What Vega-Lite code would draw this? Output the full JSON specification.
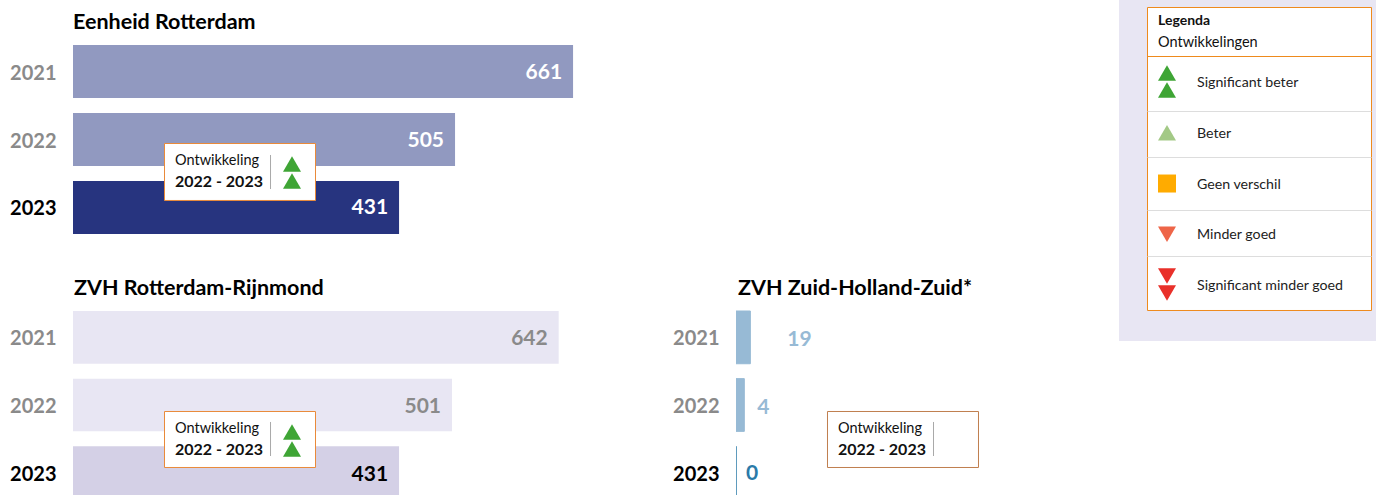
{
"$schema":"https://vega.github.io/schema/vega-lite/v6.json",
"autosize":{"type":"none"},
"padding":{"left":73,"top":0,"right":1303,"bottom":495},
"background":"white",
"config":{"view":{"stroke":null},"text":{"font":"Lato"},"title":{"font":"Lato","fontSize":21.5,"fontWeight":"bold","color":"#000000","anchor":"start","baseline":"middle","frame":"group"}},
"datasets":{
"aantallen":[
{"eenheid":"Eenheid Rotterdam","jaar":"2021","aantal":661,"staaf":661},
{"eenheid":"Eenheid Rotterdam","jaar":"2022","aantal":505,"staaf":505},
{"eenheid":"Eenheid Rotterdam","jaar":"2023","aantal":431,"staaf":431},
{"eenheid":"ZVH Rotterdam-Rijnmond","jaar":"2021","aantal":642,"staaf":642},
{"eenheid":"ZVH Rotterdam-Rijnmond","jaar":"2022","aantal":501,"staaf":501},
{"eenheid":"ZVH Rotterdam-Rijnmond","jaar":"2023","aantal":431,"staaf":431},
{"eenheid":"ZVH Zuid-Holland-Zuid","jaar":"2021","aantal":19,"staaf":19},
{"eenheid":"ZVH Zuid-Holland-Zuid","jaar":"2022","aantal":4,"staaf":11},
{"eenheid":"ZVH Zuid-Holland-Zuid","jaar":"2023","aantal":0,"staaf":0}
],
"ontwikkeling":[
{"eenheid":"Eenheid Rotterdam","kop":"Ontwikkeling","periode":"2022 - 2023","symbool":"Significant beter"},
{"eenheid":"ZVH Rotterdam-Rijnmond","kop":"Ontwikkeling","periode":"2022 - 2023","symbool":"Significant beter"},
{"eenheid":"ZVH Zuid-Holland-Zuid","kop":"Ontwikkeling","periode":"2022 - 2023","symbool":"geen"}
],
"legenda":[
{"label":"Significant beter","rij":1,"dubbel":true},
{"label":"Beter","rij":2,"dubbel":false},
{"label":"Geen verschil","rij":3,"dubbel":false},
{"label":"Minder goed","rij":4,"dubbel":false},
{"label":"Significant minder goed","rij":5,"dubbel":true}
]
},
"resolve":{"scale":{"color":"independent","stroke":"independent","shape":"independent","size":"independent"}},
"spacing":0,
"hconcat":[
{"bounds":"flush","spacing":0,"resolve":{"scale":{"color":"independent","stroke":"independent"}},"vconcat":[
{"title":{"text":"Eenheid Rotterdam","offset":-33},"width":600,"height":267,"resolve":{"scale":{"y":"independent"}},"layer":[
{"data":{"name":"aantallen"},"transform":[{"filter":"datum.eenheid === 'Eenheid Rotterdam'"}],"mark":{"type":"bar","clip":true},"encoding":{
"y":{"field":"jaar","type":"nominal","sort":null,"scale":{"type":"band","domain":["2021","2022","2023"],"range":[45,234],"paddingInner":0.22,"paddingOuter":0},"axis":{"title":null,"domain":false,"ticks":false,"labelFont":"Lato","labelFontSize":20,"labelFontWeight":"bold","labelPadding":17,"labelOffset":2,"labelColor":{"condition":{"test":"datum.value === '2023'","value":"#000000"},"value":"#8a8a8a"}}},
"x":{"field":"staaf","type":"quantitative","scale":{"domain":[0,793.1],"nice":false},"axis":null},
"color":{"field":"jaar","type":"nominal","scale":{"domain":["2021","2022","2023"],"range":["#9199c0","#9199c0","#27347f"]},"legend":null}}},
{"data":{"name":"aantallen"},"transform":[{"filter":"datum.eenheid === 'Eenheid Rotterdam'"}],"mark":{"type":"text","align":"right","baseline":"middle","dx":-11,"dy":1,"fontSize":21,"fontWeight":"bold","color":"#ffffff"},"encoding":{
"y":{"field":"jaar","type":"nominal","sort":null,"scale":{"type":"band","domain":["2021","2022","2023"],"range":[45,234],"paddingInner":0.22,"paddingOuter":0},"axis":null},
"x":{"field":"staaf","type":"quantitative"},"text":{"field":"aantal","type":"quantitative"}}},
{"data":{"name":"ontwikkeling"},"transform":[{"filter":"datum.eenheid === 'Eenheid Rotterdam'"}],"layer":[
{"mark":{"type":"rect","fill":"#ffffff","stroke":"#e98a3a","strokeWidth":1},"encoding":{"x":{"datum":120.95,"type":"quantitative"},"x2":{"datum":320.56},"y":{"datum":1.5635,"type":"quantitative","scale":{"domain":[0,3],"range":[45,234]},"axis":null},"y2":{"datum":2.468}}},
{"mark":{"type":"text","align":"left","baseline":"middle","fontSize":14.5,"color":"#111111"},"encoding":{"x":{"datum":134.8,"type":"quantitative"},"y":{"datum":1.84,"type":"quantitative"},"text":{"field":"kop"}}},
{"mark":{"type":"text","align":"left","baseline":"middle","fontSize":16,"fontWeight":"bold","color":"#111111"},"encoding":{"x":{"datum":134.8,"type":"quantitative"},"y":{"datum":2.175,"type":"quantitative"},"text":{"field":"periode"}}},
{"mark":{"type":"rule","color":"#a9a9a9","strokeWidth":1},"encoding":{"x":{"datum":261.1,"type":"quantitative"},"y":{"datum":1.746,"type":"quantitative"},"y2":{"datum":2.286}}},
{"mark":{"type":"point","shape":"triangle-up","filled":true,"size":324,"opacity":1,"color":"#3fa535"},"encoding":{"x":{"datum":289.5,"type":"quantitative"},"y":{"datum":1.889,"type":"quantitative"}}},
{"mark":{"type":"point","shape":"triangle-up","filled":true,"size":324,"opacity":1,"color":"#3fa535"},"encoding":{"x":{"datum":289.5,"type":"quantitative"},"y":{"datum":2.159,"type":"quantitative"}}}
]}
]},
{"bounds":"flush","spacing":63,"resolve":{"scale":{"color":"independent","stroke":"independent"}},"hconcat":[
{"title":{"text":"ZVH Rotterdam-Rijnmond","offset":-32,"dx":1},"width":600,"height":228,"resolve":{"scale":{"y":"independent"}},"layer":[
{"data":{"name":"aantallen"},"transform":[{"filter":"datum.eenheid === 'ZVH Rotterdam-Rijnmond'"}],"mark":{"type":"bar","clip":true},"encoding":{
"y":{"field":"jaar","type":"nominal","sort":null,"scale":{"type":"band","domain":["2021","2022","2023"],"range":[44,232],"paddingInner":0.22,"paddingOuter":0},"axis":{"title":null,"domain":false,"ticks":false,"labelFont":"Lato","labelFontSize":20,"labelFontWeight":"bold","labelPadding":17,"labelOffset":2,"labelColor":{"condition":{"test":"datum.value === '2023'","value":"#000000"},"value":"#8a8a8a"}}},
"x":{"field":"staaf","type":"quantitative","scale":{"domain":[0,793.1],"nice":false},"axis":null},
"color":{"field":"jaar","type":"nominal","scale":{"domain":["2021","2022","2023"],"range":["#e8e6f3","#e8e6f3","#d4d0e6"]},"legend":null}}},
{"data":{"name":"aantallen"},"transform":[{"filter":"datum.eenheid === 'ZVH Rotterdam-Rijnmond'"}],"mark":{"type":"text","align":"right","baseline":"middle","dx":-11,"dy":2,"fontSize":21,"fontWeight":"bold"},"encoding":{
"y":{"field":"jaar","type":"nominal","sort":null,"scale":{"type":"band","domain":["2021","2022","2023"],"range":[44,232],"paddingInner":0.22,"paddingOuter":0},"axis":null},
"x":{"field":"staaf","type":"quantitative"},"text":{"field":"aantal","type":"quantitative"},
"color":{"condition":{"test":"datum.jaar === '2023'","value":"#000000"},"value":"#8a8a8a"}}},
{"data":{"name":"ontwikkeling"},"transform":[{"filter":"datum.eenheid === 'ZVH Rotterdam-Rijnmond'"}],"layer":[
{"mark":{"type":"rect","fill":"#ffffff","stroke":"#e98a3a","strokeWidth":1},"encoding":{"x":{"datum":120.95,"type":"quantitative"},"x2":{"datum":320.56},"y":{"datum":1.6037,"type":"quantitative","scale":{"domain":[0,3],"range":[44,232]},"axis":null},"y2":{"datum":2.4973}}},
{"mark":{"type":"text","align":"left","baseline":"middle","fontSize":14.5,"color":"#111111"},"encoding":{"x":{"datum":134.8,"type":"quantitative"},"y":{"datum":1.883,"type":"quantitative"},"text":{"field":"kop"}}},
{"mark":{"type":"text","align":"left","baseline":"middle","fontSize":16,"fontWeight":"bold","color":"#111111"},"encoding":{"x":{"datum":134.8,"type":"quantitative"},"y":{"datum":2.218,"type":"quantitative"},"text":{"field":"periode"}}},
{"mark":{"type":"rule","color":"#a9a9a9","strokeWidth":1},"encoding":{"x":{"datum":261.1,"type":"quantitative"},"y":{"datum":1.771,"type":"quantitative"},"y2":{"datum":2.314}}},
{"mark":{"type":"point","shape":"triangle-up","filled":true,"size":324,"opacity":1,"color":"#3fa535"},"encoding":{"x":{"datum":289.5,"type":"quantitative"},"y":{"datum":1.931,"type":"quantitative"}}},
{"mark":{"type":"point","shape":"triangle-up","filled":true,"size":324,"opacity":1,"color":"#3fa535"},"encoding":{"x":{"datum":289.5,"type":"quantitative"},"y":{"datum":2.202,"type":"quantitative"}}}
]}
]},
{"title":{"text":"ZVH Zuid-Holland-Zuid*","offset":-32,"dx":2},"width":383,"height":228,"resolve":{"scale":{"y":"independent"}},"layer":[
{"data":{"name":"aantallen"},"transform":[{"filter":"datum.eenheid === 'ZVH Zuid-Holland-Zuid'"}],"mark":{"type":"bar","clip":true,"strokeWidth":1},"encoding":{
"y":{"field":"jaar","type":"nominal","sort":null,"scale":{"type":"band","domain":["2021","2022","2023"],"range":[44,232],"paddingInner":0.22,"paddingOuter":0},"axis":{"title":null,"domain":false,"ticks":false,"labelFont":"Lato","labelFontSize":20,"labelFontWeight":"bold","labelPadding":17,"labelOffset":2,"labelColor":{"condition":{"test":"datum.value === '2023'","value":"#000000"},"value":"#8a8a8a"}}},
"x":{"field":"staaf","type":"quantitative","scale":{"domain":[0,506.3],"nice":false},"axis":null},
"color":{"field":"jaar","type":"nominal","scale":{"domain":["2021","2022","2023"],"range":["#97bad5","#97bad5","#2b7aa8"]},"legend":null},
"stroke":{"field":"jaar","type":"nominal","scale":{"domain":["2021","2022","2023"],"range":["#97bad5","#97bad5","#2b7aa8"]},"legend":null}}},
{"data":{"name":"aantallen"},"transform":[{"filter":"datum.eenheid === 'ZVH Zuid-Holland-Zuid' && datum.jaar === '2021'"}],"mark":{"type":"text","align":"left","baseline":"middle","dx":37,"dy":3,"fontSize":21,"fontWeight":"bold","color":"#97bad5"},"encoding":{
"y":{"field":"jaar","type":"nominal","sort":null,"scale":{"type":"band","domain":["2021","2022","2023"],"range":[44,232],"paddingInner":0.22,"paddingOuter":0},"axis":null},
"x":{"field":"staaf","type":"quantitative"},"text":{"field":"aantal","type":"quantitative"}}},
{"data":{"name":"aantallen"},"transform":[{"filter":"datum.eenheid === 'ZVH Zuid-Holland-Zuid' && datum.jaar === '2022'"}],"mark":{"type":"text","align":"left","baseline":"middle","dx":13,"dy":3,"fontSize":21,"fontWeight":"bold","color":"#97bad5"},"encoding":{
"y":{"field":"jaar","type":"nominal","sort":null,"scale":{"type":"band","domain":["2021","2022","2023"],"range":[44,232],"paddingInner":0.22,"paddingOuter":0},"axis":null},
"x":{"field":"staaf","type":"quantitative"},"text":{"field":"aantal","type":"quantitative"}}},
{"data":{"name":"aantallen"},"transform":[{"filter":"datum.eenheid === 'ZVH Zuid-Holland-Zuid' && datum.jaar === '2023'"}],"mark":{"type":"text","align":"left","baseline":"middle","dx":10,"dy":1,"fontSize":21,"fontWeight":"bold","color":"#2b7aa8"},"encoding":{
"y":{"field":"jaar","type":"nominal","sort":null,"scale":{"type":"band","domain":["2021","2022","2023"],"range":[44,232],"paddingInner":0.22,"paddingOuter":0},"axis":null},
"x":{"field":"staaf","type":"quantitative"},"text":{"field":"aantal","type":"quantitative"}}},
{"data":{"name":"ontwikkeling"},"transform":[{"filter":"datum.eenheid === 'ZVH Zuid-Holland-Zuid'"}],"layer":[
{"mark":{"type":"rect","fill":"#ffffff","stroke":"#c07f4e","strokeWidth":1},"encoding":{"x":{"datum":120.95,"type":"quantitative"},"x2":{"datum":320.56},"y":{"datum":1.6037,"type":"quantitative","scale":{"domain":[0,3],"range":[44,232]},"axis":null},"y2":{"datum":2.4973}}},
{"mark":{"type":"text","align":"left","baseline":"middle","fontSize":14.5,"color":"#111111"},"encoding":{"x":{"datum":134.8,"type":"quantitative"},"y":{"datum":1.883,"type":"quantitative"},"text":{"field":"kop"}}},
{"mark":{"type":"text","align":"left","baseline":"middle","fontSize":16,"fontWeight":"bold","color":"#111111"},"encoding":{"x":{"datum":134.8,"type":"quantitative"},"y":{"datum":2.218,"type":"quantitative"},"text":{"field":"periode"}}},
{"mark":{"type":"rule","color":"#a9a9a9","strokeWidth":1},"encoding":{"x":{"datum":261.1,"type":"quantitative"},"y":{"datum":1.771,"type":"quantitative"},"y2":{"datum":2.314}}}
]}
]}
]}
]},
{"width":257,"height":341,"view":{"fill":"#e8e6f3","stroke":null},"data":{"name":"legenda"},"layer":[
{"data":{"values":[{"kop":"Legenda","sub":"Ontwikkelingen"}]},"mark":{"type":"rect","fill":"#ffffff","stroke":"#ee8a1d","strokeWidth":1},"encoding":{
"x":{"datum":28.5,"type":"quantitative","scale":{"domain":[0,257],"nice":false},"axis":null},"x2":{"datum":252.5},
"y":{"datum":-0.4682,"type":"quantitative","scale":{"domain":[-0.616,6.103],"nice":false,"zero":false,"reverse":true},"axis":null},"y2":{"datum":5.502}}},
{"data":{"values":[{"kop":"Legenda","sub":"Ontwikkelingen"}]},"mark":{"type":"rule","color":"#ee8a1d","strokeWidth":1},"encoding":{"x":{"datum":28.5,"type":"quantitative"},"x2":{"datum":252.5},"y":{"datum":0.4973,"type":"quantitative"}}},
{"data":{"values":[{"grens":1.581},{"grens":2.4875},{"grens":3.532},{"grens":4.438}]},"mark":{"type":"rule","color":"#dddddd","strokeWidth":1},"encoding":{"x":{"datum":28.5,"type":"quantitative"},"x2":{"datum":252.5},"y":{"field":"grens","type":"quantitative"}}},
{"data":{"values":[{"kop":"Legenda","sub":"Ontwikkelingen"}]},"mark":{"type":"text","align":"left","baseline":"middle","dy":1,"fontSize":14,"fontWeight":"bold","color":"#111111"},"encoding":{"x":{"datum":39,"type":"quantitative"},"y":{"datum":-0.222,"type":"quantitative"},"text":{"field":"kop"}}},
{"data":{"values":[{"kop":"Legenda","sub":"Ontwikkelingen"}]},"mark":{"type":"text","align":"left","baseline":"middle","dy":1,"fontSize":14.5,"color":"#111111"},"encoding":{"x":{"datum":39,"type":"quantitative"},"y":{"datum":0.212,"type":"quantitative"},"text":{"field":"sub"}}},
{"mark":{"type":"text","align":"left","baseline":"middle","dy":1,"fontSize":14.2,"color":"#222222"},"encoding":{"x":{"datum":78,"type":"quantitative"},"y":{"field":"rij","type":"quantitative"},"text":{"field":"label"}}},
{"transform":[{"filter":"!datum.dubbel"}],"mark":{"type":"point","filled":true,"opacity":1},"encoding":{"x":{"datum":48,"type":"quantitative"},"y":{"field":"rij","type":"quantitative"},
"size":{"field":"label","type":"nominal","scale":{"domain":["Significant beter","Beter","Geen verschil","Minder goed","Significant minder goed"],"range":[324,324,256,324,324]},"legend":null},
"shape":{"field":"label","type":"nominal","scale":{"domain":["Significant beter","Beter","Geen verschil","Minder goed","Significant minder goed"],"range":["triangle-up","triangle-up","square","triangle-down","triangle-down"]},"legend":null},
"color":{"field":"label","type":"nominal","scale":{"domain":["Significant beter","Beter","Geen verschil","Minder goed","Significant minder goed"],"range":["#3fa535","#a3c986","#ffab00","#ee6548","#e9302a"]},"legend":null}}},
{"transform":[{"filter":"datum.dubbel"}],"mark":{"type":"point","filled":true,"opacity":1,"size":324,"yOffset":-9},"encoding":{"x":{"datum":48,"type":"quantitative"},"y":{"field":"rij","type":"quantitative"},
"shape":{"field":"label","type":"nominal","legend":null},
"color":{"field":"label","type":"nominal","legend":null}}},
{"transform":[{"filter":"datum.dubbel"}],"mark":{"type":"point","filled":true,"opacity":1,"size":324,"yOffset":8},"encoding":{"x":{"datum":48,"type":"quantitative"},"y":{"field":"rij","type":"quantitative"},
"shape":{"field":"label","type":"nominal","legend":null},
"color":{"field":"label","type":"nominal","legend":null}}}
]}
]
}
